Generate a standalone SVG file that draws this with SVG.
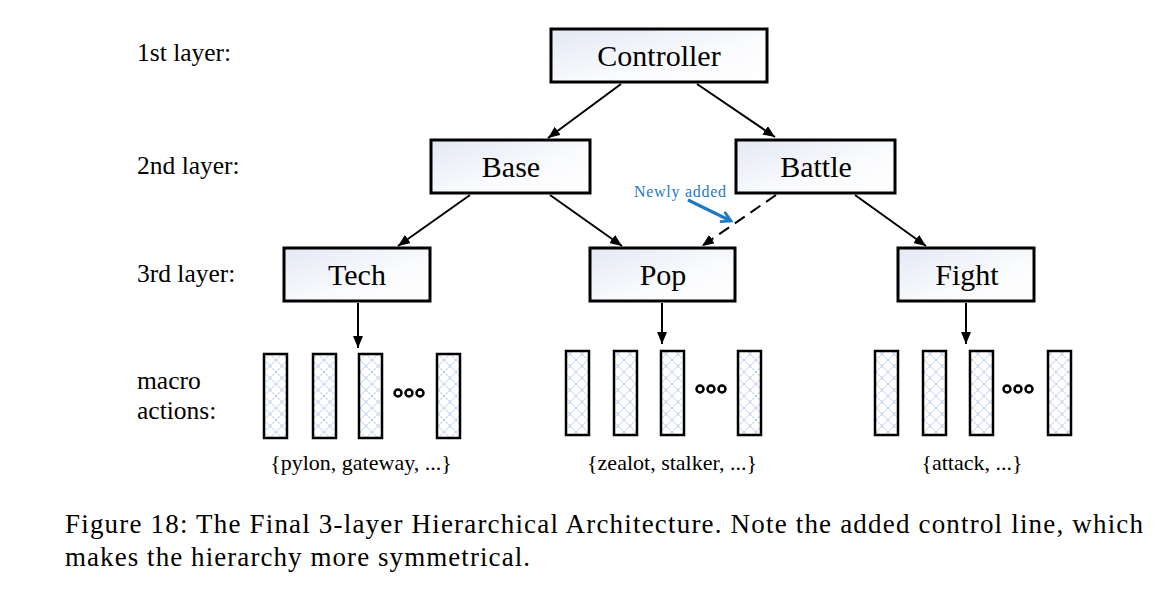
<svg xmlns="http://www.w3.org/2000/svg" width="1160" height="593" viewBox="0 0 1160 593">
<style>
.node rect{stroke:#000;stroke-width:3;fill:url(#g)}
.node text{font-size:30px;text-anchor:middle;fill:#000}
.lbl{font-size:25.5px;fill:#000}
.set{font-size:22px;fill:#000;text-anchor:middle}
.cap{font-size:27px;fill:#000}
.ma rect{fill:url(#hatch);stroke:#000;stroke-width:2.5}
.ma circle{fill:none;stroke:#000;stroke-width:2.5}
.edge{stroke:#000;stroke-width:2;fill:none;marker-end:url(#ah)}
</style>
<defs>
<linearGradient id="g" x1="0" y1="0" x2="1" y2="1">
<stop offset="0" stop-color="#e3e8f4"/>
<stop offset="0.6" stop-color="#fafbfd"/>
<stop offset="1" stop-color="#ffffff"/>
</linearGradient>
<pattern id="hatch" width="12" height="12" patternUnits="userSpaceOnUse">
<rect width="12" height="12" fill="#fff"/>
<path d="M0 0L12 12M12 0L0 12" stroke="#c3d2ee" stroke-width="1.2" stroke-dasharray="2 1"/>
</pattern>
<marker id="ah" viewBox="0 0 12 10" refX="12" refY="5" markerWidth="12" markerHeight="10" markerUnits="userSpaceOnUse" orient="auto">
<path d="M0 0L12 5L0 10z" fill="#000"/>
</marker>
<marker id="bh" viewBox="0 0 12 12" refX="10" refY="6" markerWidth="13" markerHeight="13" markerUnits="userSpaceOnUse" orient="auto">
<path d="M1 1L10 6L1 11" fill="none" stroke="#1f7ac4" stroke-width="2.5"/>
</marker>
</defs>
<rect width="1160" height="593" fill="#fff"/>

<g font-family="Liberation Serif, DejaVu Serif, serif">
<text class="lbl" x="137" y="61">1st layer:</text>
<text class="lbl" x="137" y="174">2nd layer:</text>
<text class="lbl" x="137" y="282">3rd layer:</text>
<text class="lbl" x="137" y="389">macro</text>
<text class="lbl" x="137" y="419">actions:</text>
</g>

<g id="connectors">
<line class="edge" x1="621" y1="84" x2="548" y2="138"/>
<line class="edge" x1="697" y1="84" x2="775" y2="137"/>
<line class="edge" x1="470" y1="195" x2="398" y2="246"/>
<line class="edge" x1="550" y1="195" x2="622" y2="246"/>
<line class="edge" x1="776" y1="195" x2="702" y2="246" stroke-dasharray="12 7"/>
<line class="edge" x1="855" y1="195" x2="926" y2="246"/>
<line class="edge" x1="358" y1="303" x2="358" y2="348"/>
<line class="edge" x1="662" y1="303" x2="662" y2="344"/>
<line class="edge" x1="966" y1="303" x2="966" y2="344"/>
<line x1="688" y1="200" x2="731" y2="221" stroke="#1f7ac4" stroke-width="3.2" marker-end="url(#bh)"/>
</g>
<text x="634" y="197" font-family="Liberation Serif, DejaVu Serif, serif" font-size="16" fill="#1f7ac4" textLength="92">Newly added</text>

<g font-family="Liberation Serif, DejaVu Serif, serif">
<g id="controller" class="node"><rect x="551" y="29" width="216" height="53"/><text x="659" y="66">Controller</text></g>
<g id="base" class="node"><rect x="431" y="140" width="159" height="53"/><text x="511" y="177">Base</text></g>
<g id="battle" class="node"><rect x="736" y="140" width="159" height="53"/><text x="816" y="177">Battle</text></g>
<g id="tech" class="node"><rect x="284" y="248" width="146" height="53"/><text x="357" y="285">Tech</text></g>
<g id="pop" class="node"><rect x="590" y="248" width="145" height="53"/><text x="663" y="285">Pop</text></g>
<g id="fight" class="node"><rect x="898" y="248" width="136" height="53"/><text x="967" y="285">Fight</text></g>
</g>

<g id="tech-actions" class="ma">
<rect x="264" y="354" width="23" height="84"/>
<rect x="313" y="354" width="23" height="84"/>
<rect x="359" y="354" width="23" height="84"/>
<rect x="437" y="354" width="23" height="84"/>
<circle cx="398" cy="393" r="3.5"/><circle cx="409" cy="393" r="3.5"/><circle cx="420" cy="393" r="3.5"/>
</g>
<g id="pop-actions" class="ma">
<rect x="566" y="351" width="23" height="84"/>
<rect x="614" y="351" width="23" height="84"/>
<rect x="661" y="351" width="23" height="84"/>
<rect x="738" y="351" width="23" height="84"/>
<circle cx="700" cy="389" r="3.5"/><circle cx="711" cy="389" r="3.5"/><circle cx="722" cy="389" r="3.5"/>
</g>
<g id="fight-actions" class="ma">
<rect x="875" y="351" width="23" height="84"/>
<rect x="923" y="351" width="23" height="84"/>
<rect x="970" y="351" width="23" height="84"/>
<rect x="1048" y="351" width="23" height="84"/>
<circle cx="1007" cy="389" r="3.5"/><circle cx="1018" cy="389" r="3.5"/><circle cx="1029" cy="389" r="3.5"/>
</g>

<g font-family="Liberation Serif, DejaVu Serif, serif">
<text class="set" x="361" y="470">{pylon, gateway, ...}</text>
<text class="set" x="672" y="470">{zealot, stalker, ...}</text>
<text class="set" x="972" y="470">{attack, ...}</text>
<text class="cap" x="65" y="533" textLength="1078" lengthAdjust="spacing">Figure 18: The Final 3-layer Hierarchical Architecture. Note the added control line, which</text>
<text class="cap" x="65" y="566" textLength="465" lengthAdjust="spacing">makes the hierarchy more symmetrical.</text>
</g>
</svg>
